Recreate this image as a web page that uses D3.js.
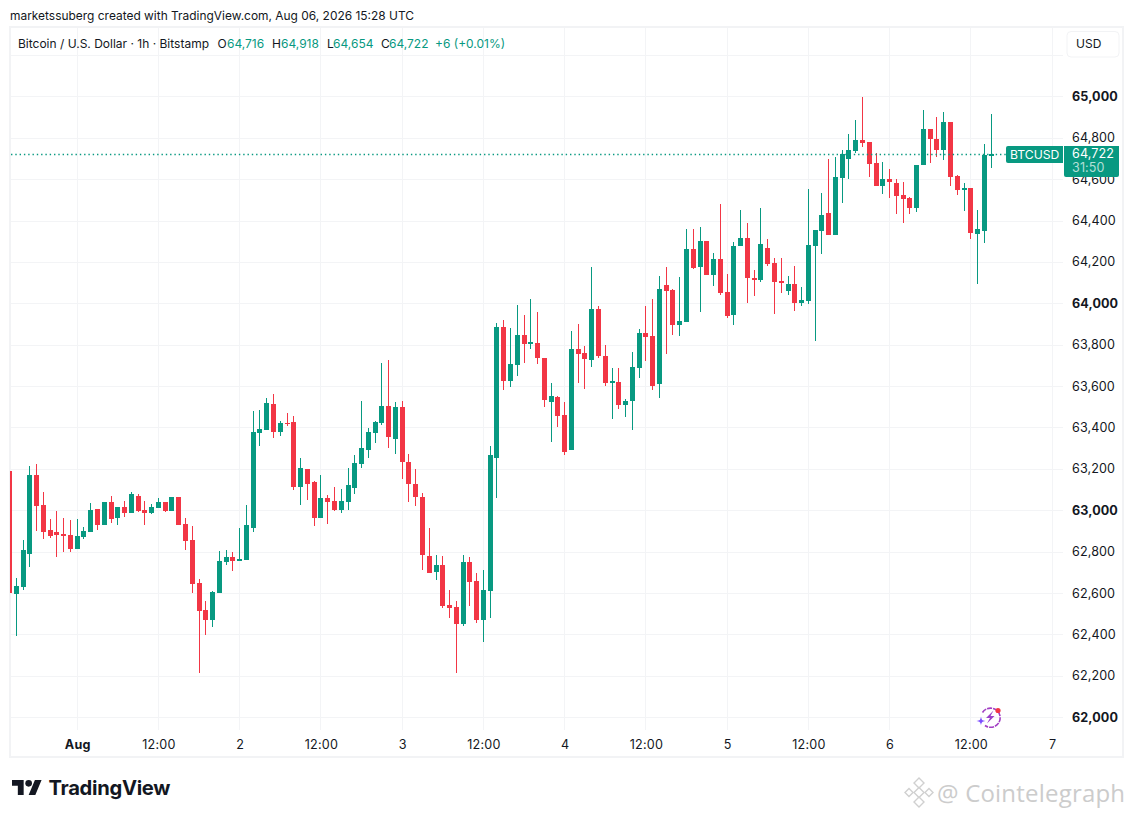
<!DOCTYPE html>
<html>
<head>
<meta charset="utf-8">
<script src="https://cdn.jsdelivr.net/npm/d3@7/dist/d3.min.js"></script>
<style>
html,body{margin:0;padding:0;background:#fff;}
svg{display:block;font-family:Inter,"Noto Sans",sans-serif;}
</style>
</head>
<body>
<svg id="c" width="1133" height="818"></svg>
<script>
// hours relative to Aug 1 00:00 UTC for each candle run from firstHour upward
const firstHour = -10;
const opens = [63192,62599,62632,62791,63173,63028,62907,62897,62888,62883,
62815,62873,62897,63008,62931,63042,62965,63018,62989,63071,
63004,62989,63013,63042,62999,63066,62936,62859,62651,62520,
62472,62603,62752,62777,62757,62762,62917,63376,63390,63516,
63381,63424,63429,63115,63202,63139,62965,63062,63047,63004,
63042,63110,63226,63294,63376,63424,63506,63347,63501,63236,
63129,63067,62781,62704,62738,62545,62535,62453,62752,62661,
62472,62612,63255,63888,63627,63704,63849,63810,63810,63738,
63525,63549,63462,63293,63781,63762,63728,63975,63748,63617,
63622,63511,63530,63690,63859,63844,63612,64091,64067,63897,
63912,64265,64178,64303,64139,64216,64057,63946,64279,64318,
64125,64115,64269,64197,64110,64062,64095,64004,64013,64279,
64351,64439,64332,64608,64699,64738,64791,64782,64680,64569,
64603,64583,64526,64511,64463,64671,64845,64796,64743,64878,
64617,64550,64559,64337,64351,64716];
const closes = [62604,62636,62810,63173,63023,62897,62878,62883,62878,62815,
62878,62902,63004,62931,63042,62960,63018,62989,63081,62999,
62989,63018,63042,62999,63066,62931,62854,62646,62516,62472,
62607,62757,62777,62757,62767,62931,63381,63395,63521,63381,
63424,63419,63115,63207,63129,62965,63062,63042,63004,63047,
63125,63231,63303,63381,63429,63506,63357,63501,63236,63129,
63067,62786,62699,62738,62540,62530,62453,62752,62656,62472,
62617,63270,63888,63627,63709,63849,63806,63815,63738,63535,
63554,63458,63284,63781,63757,63733,63975,63748,63617,63627,
63511,63530,63694,63859,63839,63603,64071,64062,63897,63917,
64265,64173,64303,64139,64216,64052,63941,64279,64318,64125,
64115,64289,64192,64105,64100,64095,64004,64018,64284,64356,
64429,64332,64613,64724,64743,64791,64777,64675,64569,64603,
64588,64521,64506,64463,64671,64845,64796,64743,64878,64613,
64550,64559,64342,64361,64719,64722];
const highs = [63192,62675,62859,63216,63226,63091,62960,62999,62965,62955,
62960,62922,63037,63008,63042,63071,63018,63047,63091,63081,
63047,63033,63062,63042,63066,63066,62965,62926,62670,62564,
62612,62806,62810,62801,62917,63028,63482,63487,63545,63564,
63434,63473,63458,63255,63202,63144,63173,63076,63115,63105,
63207,63270,63530,63400,63434,63714,63729,63526,63530,63274,
63202,63086,62917,62786,62781,62617,62564,62786,62777,62699,
62714,63313,63907,63922,63883,63994,63946,64023,63960,63738,
63617,63554,63525,63868,63902,63796,64178,63989,63801,63690,
63690,63540,63767,63878,63989,64023,64134,64178,64071,64129,
64361,64361,64371,64303,64245,64482,64144,64299,64453,64390,
64163,64463,64313,64221,64221,64134,64182,64081,64555,64356,
64535,64700,64709,64743,64820,64888,64999,64782,64729,64685,
64651,64603,64588,64516,64671,64936,64845,64902,64927,64878,
64622,64584,64559,64453,64772,64918];
const lows = [62604,62396,62617,62728,62902,62864,62868,62777,62801,62801,
62815,62864,62897,62907,62931,62941,62931,62970,62989,62994,
62931,62984,63013,62994,62999,62931,62810,62603,62216,62400,
62438,62603,62738,62709,62757,62762,62897,63313,63390,63352,
63361,63410,63100,63028,63052,62926,62965,62936,62999,62989,
63004,63081,63207,63255,63327,63414,63303,63274,63154,63042,
63023,62714,62699,62665,62530,62482,62216,62443,62540,62458,
62366,62482,63062,63583,63598,63651,63714,63781,63709,63501,
63332,63405,63269,63293,63617,63588,63694,63738,63603,63443,
63491,63453,63390,63641,63723,63583,63545,63757,63849,63844,
63912,64168,63960,64139,64086,64042,63931,63897,64279,64004,
64037,64105,64182,63950,64052,64042,63965,63989,63999,63820,
64240,64332,64332,64487,64603,64729,64757,64613,64569,64530,
64511,64434,64390,64434,64443,64671,64680,64709,64695,64569,
64526,64448,64313,64095,64294,64654];

const priceTicks = [62000,62200,62400,62600,62800,63000,63200,63400,63600,63800,64000,64200,64400,64600,64800,65000];
const gridExtra = [65200];
const boldPrices = [62000,63000,64000,65000];
const timeHours = [0,12,24,36,48,60,72,84,96,108,120,132,144];
const timeLabels = ["Aug","12:00","2","12:00","3","12:00","4","12:00","5","12:00","6","12:00","7"];
const boldTimeLabels = ["Aug"];
const lastPrice = 64722;
const symbolLabel = "BTCUSD";
const countdown = "31:50";
const currency = "USD";
const headerText = "marketssuberg created with TradingView.com, Aug 06, 2026 15:28 UTC";
const titleText = "Bitcoin / U.S. Dollar \u00b7 1h \u00b7 Bitstamp";
const ohlcLabels = ["O","H","L","C"];
const ohlcValues = ["64,716","64,918","64,654","64,722"];
const changeText = "+6 (+0.01%)";

const GREEN="#089981", RED="#F23645", GRID="#f3f4f6", BORDER="#f2f3f5", INK="#131722";
const svg = d3.select("#c");
const x = d3.scaleLinear().domain([0,144]).range([77.2,1052.08]);
const y = d3.scaleLinear().domain([62000,65000]).range([717.6,96.9]);
const candles = opens.map((o,i)=>({h:firstHour+i,o,c:closes[i],hi:highs[i],lo:lows[i]}));

svg.append("defs").append("clipPath").attr("id","pane").append("rect")
  .attr("x",10).attr("y",27).attr("width",1053).attr("height",703);

// grid
const grid = svg.append("g").attr("shape-rendering","crispEdges");
grid.selectAll(".h").data(priceTicks.concat(gridExtra)).join("line")
  .attr("x1",11).attr("x2",1063)
  .attr("y1",d=>Math.floor(y(d))+.5).attr("y2",d=>Math.floor(y(d))+.5)
  .attr("stroke",GRID);
grid.selectAll(".v").data(timeHours).join("line")
  .attr("x1",d=>Math.floor(x(d))+.5).attr("x2",d=>Math.floor(x(d))+.5)
  .attr("y1",27).attr("y2",730).attr("stroke",GRID);

// frame
svg.append("rect").attr("x",10).attr("y",27).attr("width",1113).attr("height",730)
  .attr("fill","none").attr("stroke",BORDER).attr("stroke-width",2).attr("shape-rendering","crispEdges");

// candles
const cg = svg.append("g").attr("clip-path","url(#pane)").attr("shape-rendering","crispEdges");
const col = d=>d.c>=d.o?GREEN:RED;
cg.selectAll(".w").data(candles).join("rect")
  .attr("x",d=>Math.floor(x(d.h))).attr("width",1)
  .attr("y",d=>y(d.hi)).attr("height",d=>y(d.lo)-y(d.hi)).attr("fill",col);
cg.selectAll(".b").data(candles).join("rect")
  .attr("x",d=>Math.floor(x(d.h))-2).attr("width",5)
  .attr("y",d=>y(Math.max(d.o,d.c))).attr("height",d=>Math.max(1.5,Math.abs(y(d.o)-y(d.c)))).attr("fill",col);

// last price line
svg.append("line").attr("x1",11).attr("x2",1006).attr("y1",Math.floor(y(lastPrice))+.5).attr("y2",Math.floor(y(lastPrice))+.5)
  .attr("stroke",GREEN).attr("stroke-width",1.3).attr("stroke-dasharray","1.4 2.9");

// price axis
const yAxis = d3.axisRight(y).tickValues(priceTicks).tickSize(0).tickPadding(0).tickFormat(d3.format(","));
const yg = svg.append("g").attr("transform","translate(1072,-1)").call(yAxis);
yg.select(".domain").remove();
yg.selectAll("text").attr("font-family","Inter").attr("font-size",12.6).attr("fill",INK)
  .attr("text-anchor","start").attr("x",0).attr("dy","0.36em")
  .style("letter-spacing","0.1px")
  .attr("font-weight",d=>boldPrices.includes(d)?700:400);

// time axis
const xAxis = d3.axisBottom(x).tickValues(timeHours).tickSize(0).tickPadding(0).tickFormat((d,i)=>timeLabels[i]);
const xg = svg.append("g").attr("transform","translate(0,749)").call(xAxis);
xg.select(".domain").remove();
xg.selectAll("text").attr("font-family","Inter").attr("font-size",12.6).attr("fill",INK).attr("y",0).attr("dy",0)
  .style("letter-spacing","0.2px")
  .attr("font-weight",(d,i)=>boldTimeLabels.includes(timeLabels[i])?700:400);

// last price labels
svg.append("path").attr("d","M1008,146H1063V163H1008a2,2 0 0 1 -2,-2V148a2,2 0 0 1 2,-2Z").attr("fill",GREEN);
svg.append("text").attr("x",1010).attr("y",159).attr("font-size",12.2).attr("fill","#fff").text(symbolLabel);
svg.append("path").attr("d","M1064,146H1119V175a2,2 0 0 1 -2,2H1066a2,2 0 0 1 -2,-2Z").attr("fill",GREEN);
svg.append("text").attr("x",1072).attr("y",158).attr("font-size",12.6).attr("fill","#fff").style("letter-spacing","0.1px").text(d3.format(",")(lastPrice));
svg.append("text").attr("x",1072).attr("y",172).attr("font-size",12.6).attr("fill","#fff").attr("fill-opacity",.7).style("letter-spacing","0.1px").text(countdown);

// currency button
svg.append("rect").attr("x",1067).attr("y",31.5).attr("width",52).attr("height",25.5).attr("rx",4)
  .attr("fill","#fff").attr("stroke","#f2f3f5");
svg.append("text").attr("x",1076).attr("y",48).attr("font-size",12).attr("fill",INK).text(currency);

// header
svg.append("text").attr("x",10).attr("y",20).attr("font-size",11.95).attr("fill",INK).text(headerText);
svg.append("text").attr("x",18).attr("y",47.5).attr("font-size",12).attr("fill",INK).text(titleText);
const ohlcLabelX=[217.5,272,327,381], ohlcValueX=[227,281,333,389];
ohlcLabels.forEach((t,i)=>{
  svg.append("text").attr("x",ohlcLabelX[i]).attr("y",47.5).attr("font-size",12).attr("fill",INK).text(t);
  svg.append("text").attr("x",ohlcValueX[i]).attr("y",47.5).attr("font-size",12).attr("fill",GREEN).text(ohlcValues[i]);
});
svg.append("text").attr("x",435).attr("y",47.5).attr("font-size",12).attr("fill",GREEN).text(changeText);

// TradingView logo
const logo = svg.append("g").attr("transform","translate(12,776.7) scale(0.833)").attr("fill",INK);
logo.append("path").attr("d","M14 22H7V11H0V4h14v18zM28 22h-8l7.5-18h8L28 22z");
logo.append("circle").attr("cx",20).attr("cy",8).attr("r",4);
svg.append("text").attr("x",48.5).attr("y",795).attr("font-size",20.2).attr("font-weight",700)
  .attr("fill",INK).style("letter-spacing","-0.3px").text("TradingView");

// lightning badge
const bd = svg.append("g");
bd.append("path").attr("d","M982.5,712.5A9.6,9.6 0 1 1 985,725.5").attr("fill","none").attr("stroke","#a23fc4").attr("stroke-width",1.6).attr("stroke-dasharray","5 1");
bd.append("path").attr("d","M993.5,710.5L986,718H990L987,723.5L994.5,716H990.5Z").attr("fill","#9a3fc9");
bd.append("path").attr("d","M981,716.5C981.6,720 982,720.5 985.5,721C982,721.5 981.6,722 981,725.5C980.4,722 980,721.5 976.5,721C980,720.5 980.4,720 981,716.5Z").attr("fill","#7c4dff");
bd.append("circle").attr("cx",998).attr("cy",710.5).attr("r",2.6).attr("fill","#f23645");

// watermark
const wm = svg.append("g").attr("fill","none").attr("stroke","#d0d0d0").attr("stroke-width",1.4);
[[919,783,5],[909,792.5,4],[929,792.5,4],[919,802,5]].forEach(([cx,cy,r])=>{
  wm.append("path").attr("d",`M${cx},${cy-r}L${cx+r},${cy}L${cx},${cy+r}L${cx-r},${cy}Z`);
});
wm.append("path").attr("d","M919,787.5L924,792.5L919,797.5L914,792.5Z");
svg.append("text").attr("x",937).attr("y",802).attr("font-family","'Open Sans'").attr("font-size",24)
  .attr("fill","#cccccc").style("letter-spacing","0.2px").text("@ Cointelegraph");
</script>
</body>
</html>
